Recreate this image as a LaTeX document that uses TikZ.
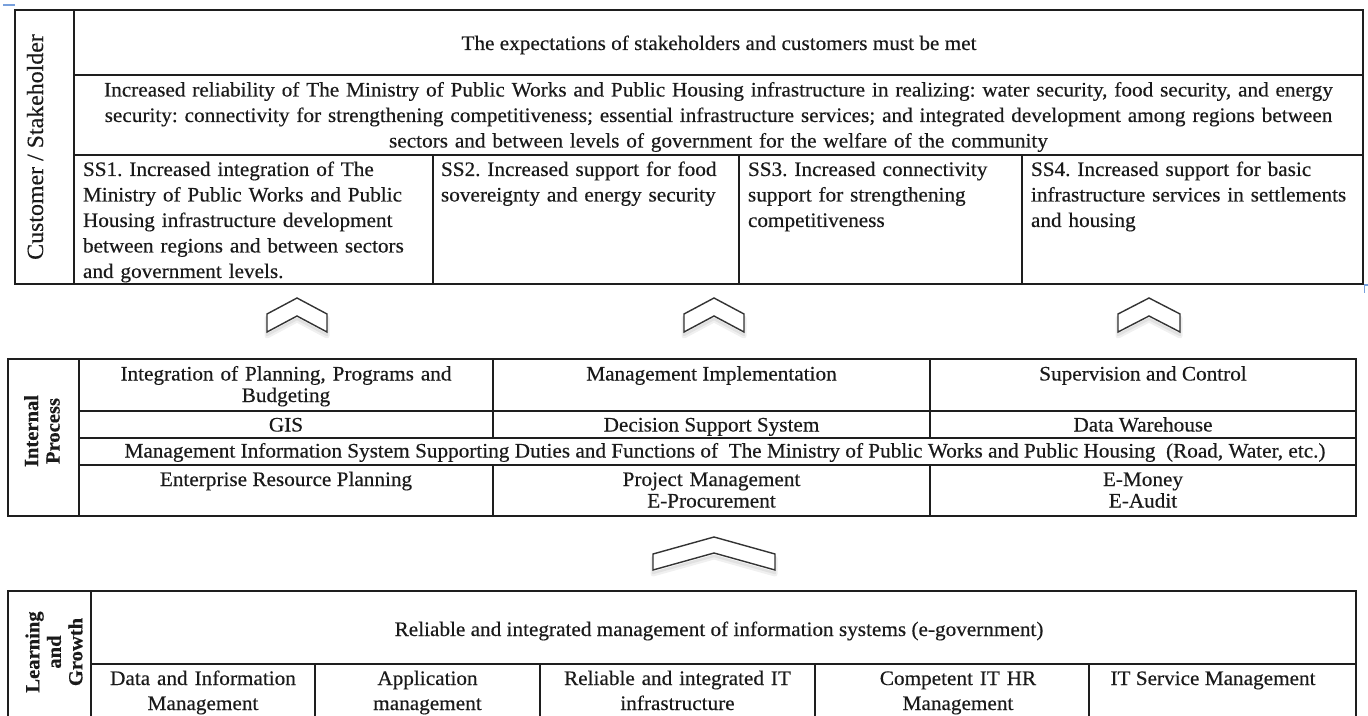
\documentclass[tikz,border=0pt]{standalone}
\usepackage{fontspec}
\setmainfont{Liberation Serif}[FakeStretch=1.03, FakeBold=0.35]
\usetikzlibrary{decorations.pathmorphing}
\newlength\wholeW
\newlength\preW
\newlength\markW
\definecolor{rulecol}{HTML}{1E1E1E}
\definecolor{inkcol}{HTML}{1A1A1A}
\definecolor{markblue}{RGB}{120,160,220}
\definecolor{spellgreen}{RGB}{60,160,60}
\definecolor{spellred}{RGB}{225,50,50}
\begin{document}
\frenchspacing
\begin{tikzpicture}[x=0.5pt,y=-0.5pt,
  grid/.style={draw=rulecol, line width=0.8pt},
  bigtxt/.style={font=\fontsize{10.3}{12.75}\selectfont, text=inkcol, inner sep=0pt, outer sep=0pt, anchor=base},
  smalltxt/.style={font=\fontsize{10.3}{10.75}\selectfont, text=inkcol, inner sep=0pt, outer sep=0pt, anchor=base},
  learntxt/.style={font=\fontsize{10.3}{12.5}\selectfont, text=inkcol, inner sep=0pt, outer sep=0pt, anchor=base},
  sidelabel/.style={font=\bfseries\fontsize{10}{10.75}\selectfont, text=inkcol, rotate=90, align=center, inner sep=0pt},
  multi/.style={text width=900pt, align=center},
  leftcell/.style={text width=300pt, align=left, anchor=base west},
  spellwave/.style={draw=#1, line width=0.5pt, decorate, decoration={snake, amplitude=0.7pt, segment length=2.2pt}},
  chevline/.style={draw=black!80, line width=0.7pt, fill=white, line join=miter},
  chevshadow/.style={draw=black, opacity=0.06, line join=round},
  pics/upchev/.style args={#1/#2/#3}{code={
    \draw[chevshadow, line width=2.5pt, shift={(0,4)}] (-#1,#2+#3) -- (-#1,#2) -- (0,0) -- (#1,#2) -- (#1,#2+#3) -- (0,#3) -- cycle;
    \draw[chevshadow, line width=1.2pt, shift={(0,3)}] (-#1,#2+#3) -- (-#1,#2) -- (0,0) -- (#1,#2) -- (#1,#2+#3) -- (0,#3) -- cycle;
    \draw[chevline] (-#1,#2+#3) -- (-#1,#2) -- (0,0) -- (#1,#2) -- (#1,#2+#3) -- (0,#3) -- cycle;
  }}
]
\useasboundingbox (0,0) rectangle (1368,716);
\fill[white] (0,0) rectangle (1368,716);

% ---------- Customer / Stakeholder ----------
\draw[grid] (15,10) rectangle (1363,284);
\draw[grid] (74,10) -- (74,284);
\draw[grid] (74,75) -- (1363,75);
\draw[grid] (74,155) -- (1363,155);
\draw[grid] (433,155) -- (433,284);
\draw[grid] (739,155) -- (739,284);
\draw[grid] (1022,155) -- (1022,284);

\node[bigtxt, rotate=90, font=\fontsize{11.6}{12.5}\selectfont] (cust) at (43,147) {Customer / Stakeholder};
\node[bigtxt] (expect) at (719,50) {The expectations of stakeholders and customers must be met};
\node[bigtxt, multi] (reliab) at (718.5,96.5) {Increased reliability of The Ministry of Public Works and Public Housing infrastructure in realizing: water security, food security, and energy\\security: connectivity for strengthening competitiveness; essential infrastructure services; and integrated development among regions between\\sectors and between levels of government for the welfare of the community};
\node[bigtxt, leftcell] (ss1) at (83,176) {SS1. Increased integration of The\\Ministry of Public Works and Public\\Housing infrastructure development\\between regions and between sectors\\and government levels.};
\node[bigtxt, leftcell] (ss2) at (441,176) {SS2. Increased support for food\\sovereignty and energy security};
\node[bigtxt, leftcell] (ss3) at (748,176) {SS3. Increased connectivity\\support for strengthening\\competitiveness};
\node[bigtxt, leftcell] (ss4) at (1031,176) {SS4. Increased support for basic\\infrastructure services in settlements\\and housing};

% ---------- chevrons ----------
\pic at (297,298) {upchev={30/16/18}};
\pic at (714,298) {upchev={30/16/18}};
\pic at (1149,298) {upchev={31/16/18}};
\pic at (714,537) {upchev={61/17/16}};

% ---------- Internal Process ----------
\draw[grid] (8,359) rectangle (1356,516);
\draw[grid] (79,359) -- (79,516);
\draw[grid] (79,411) -- (1356,411);
\draw[grid] (79,438) -- (1356,438);
\draw[grid] (79,465) -- (1356,465);
\draw[grid] (493,359) -- (493,438);
\draw[grid] (930,359) -- (930,438);
\draw[grid] (493,465) -- (493,516);
\draw[grid] (930,465) -- (930,516);

\node[sidelabel] (ip) at (42,431) {Internal\\Process};
\node[smalltxt, multi] (plan) at (286,380.5) {Integration of Planning, Programs and\\Budgeting};
\node[smalltxt] (mgmt) at (711.5,380.5) {Management Implementation};
\node[smalltxt] (sup) at (1143,380.5) {Supervision and Control};
\node[smalltxt] (gis) at (286,431.5) {GIS};
\node[smalltxt] (dss) at (711.5,431.5) {Decision Support System};
\node[smalltxt] (dw) at (1143,431.5) {Data Warehouse};
\node[smalltxt] (mis) at (725,457.5) {Management Information System Supporting Duties and Functions of~~The Ministry of Public Works and Public Housing~~(Road, Water, etc.)};
\node[smalltxt] (erp) at (286,486) {Enterprise Resource Planning};
\node[smalltxt, multi] (pm) at (711.5,486) {Project Management\\E-Procurement};
\node[smalltxt, multi] (emoney) at (1143,486) {E-Money\\E-Audit};

% proofing squiggles under "of  The" and "Money"
\settowidth\wholeW{\fontsize{10.3}{10.75}\selectfont Management Information System Supporting Duties and Functions of~~The Ministry of Public Works and Public Housing~~(Road, Water, etc.)}
\settowidth\preW{\fontsize{10.3}{10.75}\selectfont Management Information System Supporting Duties and Functions }
\settowidth\markW{\fontsize{10.3}{10.75}\selectfont of~~The}
\coordinate (ofA) at ([xshift={-0.5*\wholeW+\preW}, yshift=-2.4pt]mis.base);
\coordinate (ofB) at ([xshift={-0.5*\wholeW+\preW+\markW}, yshift=-2.4pt]mis.base);
\draw[spellwave=spellgreen] (ofA) -- (ofB);
\settowidth\wholeW{\fontsize{10.3}{10.75}\selectfont E-Money}
\settowidth\preW{\fontsize{10.3}{10.75}\selectfont E-}
\coordinate (moA) at ([xshift={-0.5*\wholeW+\preW}, yshift=-2.4pt]emoney.base);
\coordinate (moB) at ([xshift={0.5*\wholeW}, yshift=-2.4pt]emoney.base);
\draw[spellwave=spellred] (moA) -- (moB);

% ---------- Learning and Growth ----------
\draw[grid] (8,724) -- (8,591) -- (1356,591) -- (1356,724);
\draw[grid] (91,591) -- (91,724);
\draw[grid] (91,664) -- (1356,664);
\draw[grid] (315,664) -- (315,724);
\draw[grid] (540,664) -- (540,724);
\draw[grid] (815,664) -- (815,724);
\draw[grid] (1089,664) -- (1089,724);

\node[sidelabel] (lg) at (54,652) {Learning\\and\\Growth};
\node[learntxt] (egov) at (719,636) {Reliable and integrated management of information systems (e-government)};
\node[learntxt, multi] (dim) at (203,685) {Data and Information\\Management};
\node[learntxt, multi] (app) at (427.5,685) {Application\\management};
\node[learntxt, multi] (infra) at (677.5,685) {Reliable and integrated IT\\infrastructure};
\node[learntxt, multi] (hr) at (958,685) {Competent IT HR\\Management};
\node[learntxt] (itsm) at (1213,685) {IT Service Management};

% ---------- layout marks ----------
\draw[markblue, line width=0.6pt] (3,5) -- (15,5);
\draw[markblue, line width=0.6pt] (1368,285) -- (1364.5,285) -- (1364.5,293);
\end{tikzpicture}
\end{document}
